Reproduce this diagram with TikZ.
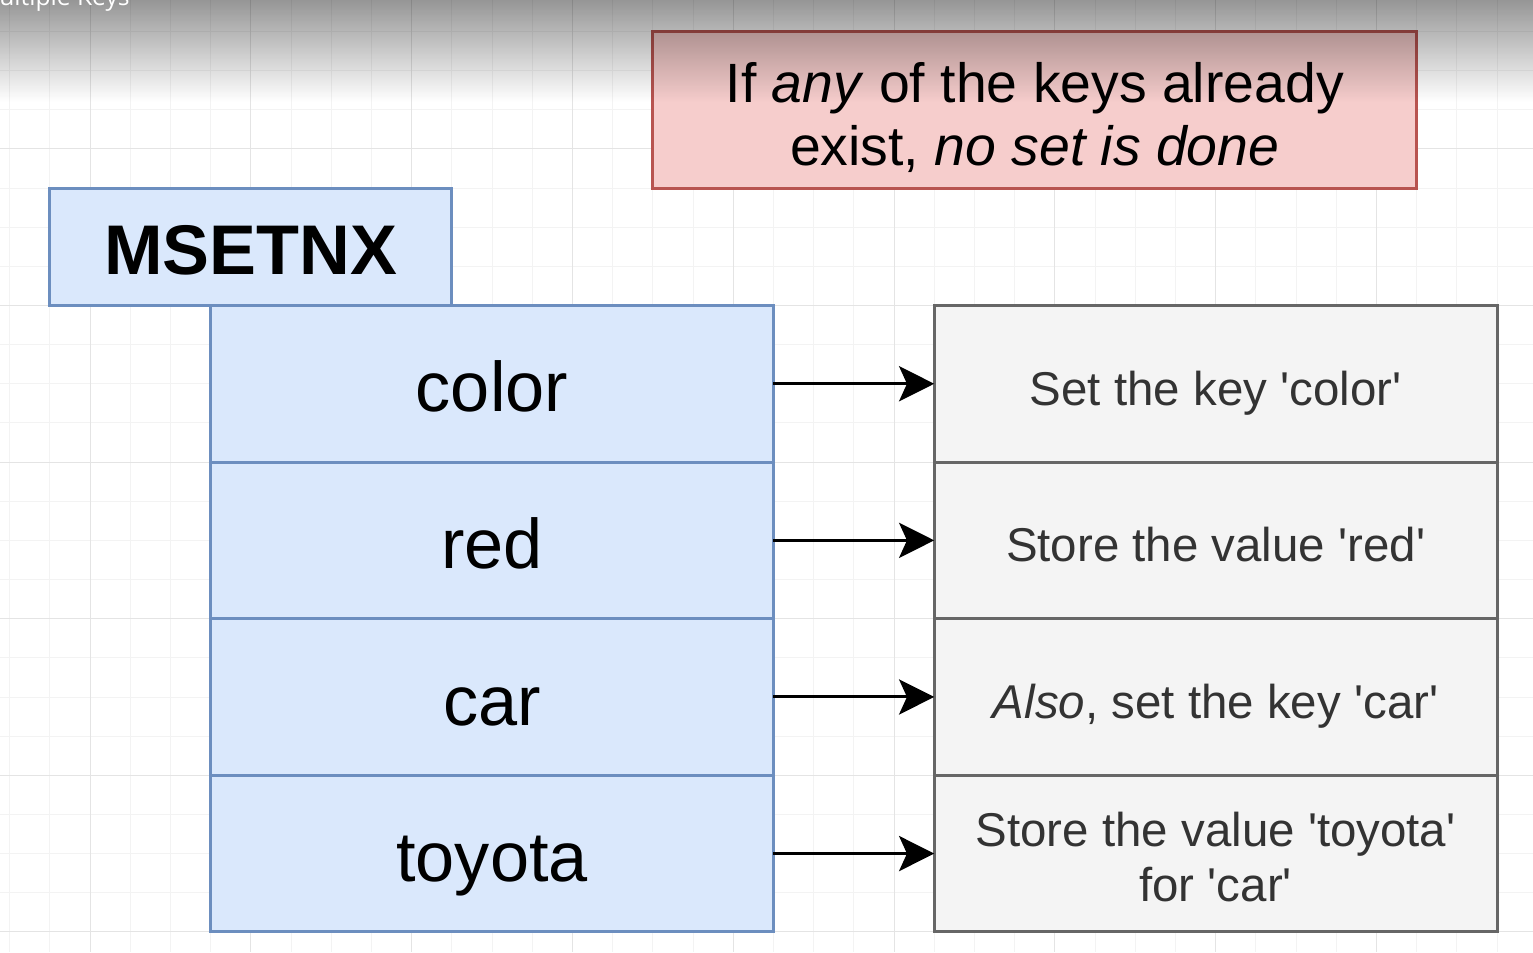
\documentclass[tikz,border=0pt]{standalone}
\usepackage{fontspec}
\setmainfont{Liberation Sans}
\newfontfamily\titlefont{Open Sans}
\usetikzlibrary{positioning,arrows.meta,fadings}
\definecolor{keyfill}{HTML}{DAE8FC}
\definecolor{keyline}{HTML}{6C8EBF}
\definecolor{opfill}{HTML}{F4F4F4}
\definecolor{opline}{HTML}{666666}
\definecolor{optext}{HTML}{333333}
\definecolor{notefill}{HTML}{F6CDCC}
\definecolor{noteline}{HTML}{B85450}
\definecolor{gridminor}{HTML}{F3F3F3}
\definecolor{gridmajor}{HTML}{E4E4E4}
\tikzfading[name=topshade, top color=transparent!0, bottom color=transparent!100]
\newcommand\q{\textquotesingle}
\tikzset{
  argbox/.style={draw=keyline, fill=keyfill, line width=1.7pt, outer sep=0pt, inner sep=0pt,
    minimum width=11.256cm, minimum height=3.132cm,
    font=\fontsize{40}{48}\selectfont, text height=40pt, text depth=8pt},
  cmdbox/.style={argbox, minimum width=8.04cm, minimum height=2.349cm,
    font=\bfseries\fontsize{40}{48}\selectfont},
  opbox/.style={draw=opline, fill=opfill, line width=1.7pt, outer sep=0pt, inner sep=0pt,
    minimum width=11.256cm, minimum height=3.132cm, text=optext, align=center,
    font=\fontsize{27}{31}\selectfont, text height=29.7pt, text depth=5.4pt},
  notebox/.style={draw=noteline, fill=notefill, line width=1.7pt, outer sep=0pt, inner sep=0pt,
    minimum width=15.276cm, minimum height=3.132cm, align=center,
    font=\fontsize{31.5}{36}\selectfont, text height=66pt, text depth=2.5pt},
  flowarrow/.style={-{Stealth[length=20pt,width=20pt,inset=4.5pt]}, line width=1.7pt},
  titletext/.style={text=white, inner sep=0pt, font=\titlefont\fontsize{14}{17}\selectfont},
  gridline/.style={line width=0.5pt}
}
\begin{document}
\begin{tikzpicture}[x=0.804cm, y=-0.783cm]
\useasboundingbox (-0.239,-0.802) rectangle (37.895,23.515);
\fill[white] (-0.239,-0.802) rectangle (37.895,23.515);
\foreach \gx in {0,...,37}
  \draw[gridline, gridminor] (\gx,-0.802) -- (\gx,23.515);
\foreach \gy in {0,...,23}
  \draw[gridline, gridminor] (-0.239,\gy) -- (37.895,\gy);
\foreach \gx in {2,6,...,34}
  \draw[gridline, gridmajor] (\gx,-0.802) -- (\gx,23.515);
\foreach \gy in {3,7,...,23}
  \draw[gridline, gridmajor] (-0.239,\gy) -- (37.895,\gy);

\node[notebox] (note) at (25.5,2) {If \textit{any} of the keys already\\exist, \textit{no set is done}};
\node[cmdbox] (cmd) at (6,5.5) {MSETNX};

\node[argbox] (argcolor) at (12,9) {color};
\node[argbox, below=0pt of argcolor] (argred) {red};
\node[argbox, below=0pt of argred] (argcar) {car};
\node[argbox, below=0pt of argcar] (argtoyota) {toyota};

\node[opbox, right=3.216cm of argcolor] (opcolor) {Set the key \q color\q};
\node[opbox, below=0pt of opcolor] (opred) {Store the value \q red\q};
\node[opbox, below=0pt of opred] (opcar) {\textit{Also}, set the key \q car\q};
\node[opbox, below=0pt of opcar, text height=54pt, text depth=0pt] (optoyota) {Store the value \q toyota\q\\for \q car\q};

\draw[flowarrow] (argcolor) -- (opcolor);
\draw[flowarrow] (argred) -- (opred);
\draw[flowarrow] (argcar) -- (opcar);
\draw[flowarrow] (argtoyota) -- (optoyota);

\fill[black, opacity=0.55, path fading=topshade] (-0.239,-1.67) rectangle (37.895,1.803);
\node[titletext, anchor=base east] (title) at (2.995,-0.649) {Multiple Keys};
\end{tikzpicture}
\end{document}
